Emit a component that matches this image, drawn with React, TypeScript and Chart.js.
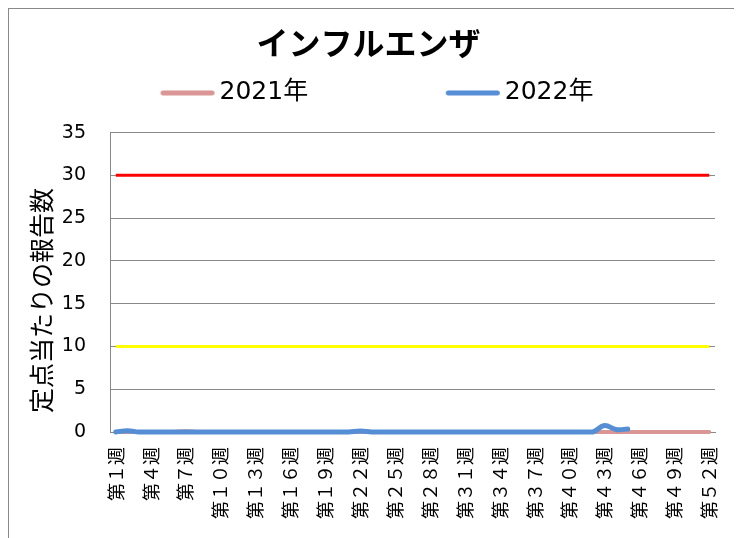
import React, { useEffect, useRef } from "react";
import { Chart, registerables } from "chart.js";

Chart.register(...registerables);

const weeks = [
  "第１週", "第２週", "第３週", "第４週", "第５週", "第６週", "第７週", "第８週", "第９週", "第１０週", "第１１週", "第１２週", "第１３週",
  "第１４週", "第１５週", "第１６週", "第１７週", "第１８週", "第１９週", "第２０週", "第２１週", "第２２週", "第２３週", "第２４週", "第２５週", "第２６週",
  "第２７週", "第２８週", "第２９週", "第３０週", "第３１週", "第３２週", "第３３週", "第３４週", "第３５週", "第３６週", "第３７週", "第３８週", "第３９週",
  "第４０週", "第４１週", "第４２週", "第４３週", "第４４週", "第４５週", "第４６週", "第４７週", "第４８週", "第４９週", "第５０週", "第５１週", "第５２週",
];

const seriesNames = ["2021年", "2022年"];

const cases2021 = [
  0, 0, 0, 0, 0, 0, 0.1, 0, 0, 0, 0, 0, 0,
  0, 0, 0, 0, 0, 0, 0, 0, 0, 0, 0, 0, 0,
  0, 0, 0, 0, 0, 0, 0, 0, 0, 0, 0, 0, 0,
  0, 0, 0, 0, 0, 0, 0, 0, 0, 0, 0, 0, 0,
];

const cases2022 = [
  0, 0.15, 0, 0, 0, 0, 0, 0, 0, 0, 0, 0, 0,
  0, 0, 0, 0, 0, 0, 0, 0, 0.12, 0, 0, 0, 0,
  0, 0, 0, 0, 0, 0, 0, 0, 0, 0, 0, 0, 0,
  0, 0, 0, 0.75, 0.3, 0.35, null, null, null, null, null, null, null,
];

const alarmLevel = [
  30, 30, 30, 30, 30, 30, 30, 30, 30, 30, 30, 30, 30,
  30, 30, 30, 30, 30, 30, 30, 30, 30, 30, 30, 30, 30,
  30, 30, 30, 30, 30, 30, 30, 30, 30, 30, 30, 30, 30,
  30, 30, 30, 30, 30, 30, 30, 30, 30, 30, 30, 30, 30,
];

const warningLevel = [
  10, 10, 10, 10, 10, 10, 10, 10, 10, 10, 10, 10, 10,
  10, 10, 10, 10, 10, 10, 10, 10, 10, 10, 10, 10, 10,
  10, 10, 10, 10, 10, 10, 10, 10, 10, 10, 10, 10, 10,
  10, 10, 10, 10, 10, 10, 10, 10, 10, 10, 10, 10, 10,
];

const yTicks = [0, 5, 10, 15, 20, 25, 30, 35];

const COLOR_2021 = "#D99694";
const COLOR_2022 = "#558ED5";
const GRID = "#898989";
const legendTrailing = [17, 8];

function makeLegendLine(color: string): HTMLCanvasElement {
  const c = document.createElement("canvas");
  c.width = 56;
  c.height = 6;
  const ctx = c.getContext("2d");
  if (ctx) {
    ctx.strokeStyle = color;
    ctx.lineWidth = 5;
    ctx.lineCap = "round";
    ctx.beginPath();
    ctx.moveTo(3.5, 3);
    ctx.lineTo(52.5, 3);
    ctx.stroke();
  }
  return c;
}

export default function App() {
  const ref = useRef<HTMLCanvasElement | null>(null);

  useEffect(() => {
    if (!ref.current) return;
    const legendSymbols = [makeLegendLine(COLOR_2021), makeLegendLine(COLOR_2022)];
    const chart = new Chart(ref.current, {
      type: "line",
      data: {
        labels: weeks,
        datasets: [
          {
            label: seriesNames[0],
            data: cases2021,
            borderColor: COLOR_2021,
            backgroundColor: COLOR_2021,
            borderWidth: 4,
            pointRadius: 0,
            tension: 0.4,
            borderCapStyle: "round",
            clip: false,
            order: 2,
          },
          {
            label: seriesNames[1],
            data: cases2022,
            borderColor: COLOR_2022,
            backgroundColor: COLOR_2022,
            borderWidth: 5,
            pointRadius: 0,
            tension: 0.4,
            borderCapStyle: "round",
            clip: false,
            order: 1,
          },
          {
            label: "alarm",
            data: alarmLevel,
            borderColor: "#FF0000",
            backgroundColor: "#FF0000",
            borderWidth: 3,
            pointRadius: 0,
            order: 3,
          },
          {
            label: "warning",
            data: warningLevel,
            borderColor: "#FFFF00",
            backgroundColor: "#FFFF00",
            borderWidth: 3,
            pointRadius: 0,
            order: 3,
          },
        ],
      },
      options: {
        responsive: true,
        maintainAspectRatio: false,
        animation: false,
        events: [],
        layout: { padding: { left: 13, right: 20, top: 0, bottom: 4 } },
        plugins: {
          title: {
            display: true,
            text: "インフルエンザ",
            color: "#000",
            font: { family: "'Noto Sans CJK JP', sans-serif", size: 32, weight: "bold" },
            padding: { top: 15, bottom: 8 },
          },
          subtitle: {
            display: true,
            text: "",
            weight: 500,
            font: { size: 1 },
            padding: { top: 0, bottom: 16 },
          },
          legend: {
            display: true,
            position: "top",
            fullSize: false,
            labels: {
              color: "#000",
              font: { family: "'DejaVu Sans', 'Noto Sans CJK JP', sans-serif", size: 25 },
              usePointStyle: true,
              pointStyleWidth: 39,
              padding: 10,
              generateLabels: (c: any) => {
                const base = Chart.defaults.plugins.legend.labels.generateLabels(c);
                return base
                  .filter((it: any) => it.datasetIndex < 2)
                  .sort((a: any, b: any) => a.datasetIndex - b.datasetIndex)
                  .map((it: any) => ({
                    ...it,
                    text: seriesNames[it.datasetIndex] + " ".repeat(legendTrailing[it.datasetIndex]),
                    pointStyle: legendSymbols[it.datasetIndex],
                    lineWidth: 0,
                  }));
              },
            },
          },
          tooltip: { enabled: false },
        },
        scales: {
          x: {
            type: "category",
            offset: true,
            grid: { display: true, drawOnChartArea: false, drawTicks: false },
            border: { display: true, color: GRID, width: 1 },
            afterFit: (s: any) => {
              s.paddingLeft = 0;
              s.paddingRight = 0;
            },
            ticks: {
              autoSkip: false,
              maxRotation: 90,
              minRotation: 90,
              padding: 15,
              color: "#000",
              font: { family: "'Noto Sans CJK JP', sans-serif", size: 18 },
              callback: (_v: any, i: number) => (i % 3 === 0 ? weeks[i] : ""),
            },
          },
          y: {
            min: yTicks[0],
            max: yTicks[yTicks.length - 1],
            afterFit: (s: any) => {
              s.width = 88;
            },
            grid: { color: GRID, lineWidth: 1, drawTicks: false },
            border: { display: true, color: GRID, width: 1 },
            ticks: {
              stepSize: 5,
              padding: 24,
              color: "#000",
              font: { family: "'DejaVu Sans', sans-serif", size: 19 },
            },
            title: {
              display: true,
              text: "定点当たりの報告数\u3000  ",
              color: "#000",
              font: { family: "'Noto Sans CJK JP', sans-serif", size: 25 },
              padding: { top: 4, bottom: 4 },
            },
          },
        },
      },
    });
    return () => chart.destroy();
  }, []);

  return (
    <div
      style={{
        width: 726,
        height: 529,
        borderTop: "1px solid #898989",
        borderLeft: "1px solid #898989",
        borderRight: "1px solid #898989",
        background: "#fff",
      }}
    >
      <div style={{ position: "relative", width: 726, height: 529 }}>
        <canvas ref={ref} />
      </div>
    </div>
  );
}
